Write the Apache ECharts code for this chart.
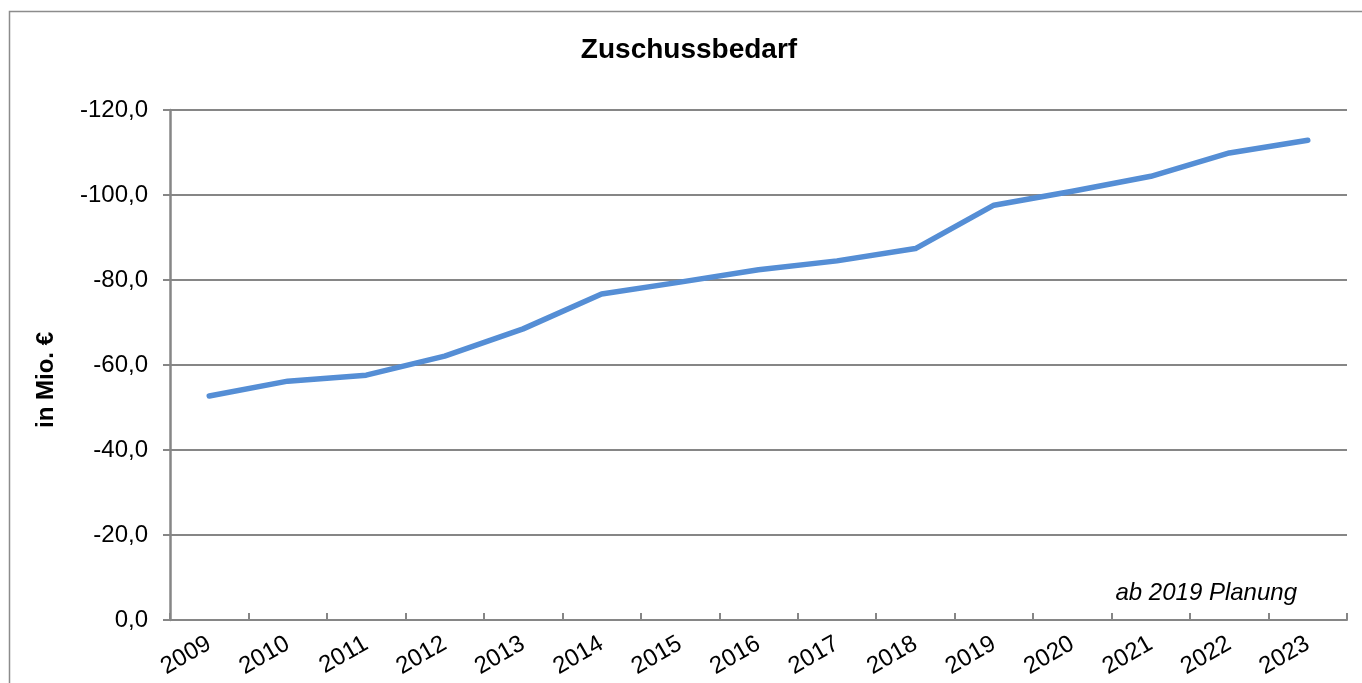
<!DOCTYPE html>
<html>
<head>
<meta charset="utf-8">
<script src="https://cdn.jsdelivr.net/npm/echarts@6/dist/echarts.min.js"></script>
<style>
html,body{margin:0;padding:0;background:#fff;}
#chart{width:1362px;height:683px;}
</style>
</head>
<body>
<div id="chart"></div>
<script>
const years = ['2009','2010','2011','2012','2013','2014','2015','2016','2017','2018','2019','2020','2021','2022','2023'];
const zuschussbedarf = [-52.7, -56.2, -57.6, -62.1, -68.5, -76.7, -79.5, -82.4, -84.5, -87.4, -97.6, -100.9, -104.4, -109.9, -112.9];
const yTicks = [0, -20, -40, -60, -80, -100, -120];
const titleText = 'Zuschussbedarf';
const yAxisName = 'in Mio. €';
const noteText = 'ab 2019 Planung';

const FONT = '"Liberation Sans", Arial, sans-serif';
const GRAY = '#868686';

const chart = echarts.init(document.getElementById('chart'), null, {renderer: 'canvas'});
chart.setOption({
  animation: false,
  backgroundColor: '#fff',
  title: {
    text: titleText,
    left: 684,
    top: 31,
    textAlign: 'center',
    textStyle: {fontFamily: FONT, fontSize: 28, fontWeight: 'bold', color: '#000'}
  },
  grid: {left: 170, right: 15, top: 110, bottom: 63, containLabel: false},
  xAxis: {
    type: 'category',
    data: years,
    boundaryGap: true,
    axisLine: {show: true, lineStyle: {color: GRAY, width: 2}},
    axisTick: {show: true, inside: true, length: 7, lineStyle: {color: GRAY, width: 2}},
    axisLabel: {rotate: 30, margin: 22, fontFamily: FONT, fontSize: 24, color: '#000', interval: 0},
    splitLine: {show: false}
  },
  yAxis: {
    type: 'value',
    inverse: true,
    min: -120,
    max: 0,
    interval: 20,
    name: yAxisName,
    nameLocation: 'middle',
    nameRotate: 90,
    nameGap: 112,
    nameTextStyle: {fontFamily: FONT, fontSize: 24, fontWeight: 'bold', color: '#000', padding: [0, 30, 0, 0]},
    axisLine: {show: true, lineStyle: {color: GRAY, width: 2.5}},
    axisTick: {show: true, inside: false, length: 7, lineStyle: {color: GRAY, width: 2}},
    axisLabel: {
      margin: 22,
      fontFamily: FONT, fontSize: 24, color: '#000',
      formatter: function (v) {
        if (yTicks.indexOf(v) < 0) return '';
        return (v === 0 ? 0 : v).toFixed(1).replace('.', ',');
      }
    },
    splitLine: {show: true, lineStyle: {color: GRAY, width: 2}}
  },
  series: [{
    type: 'line',
    data: zuschussbedarf,
    showSymbol: false,
    symbol: 'none',
    lineStyle: {color: '#558ED5', width: 5.5, cap: 'round', join: 'round'},
    itemStyle: {color: '#558ED5'}
  }],
  graphic: [
    {
      type: 'rect',
      shape: {x: 9.5, y: 11.5, width: 1400, height: 700},
      style: {fill: 'none', stroke: '#8c8c8c', lineWidth: 1.5},
      silent: true
    },
    {
      type: 'text',
      style: {
        text: noteText,
        x: 1297, y: 593,
        align: 'right', verticalAlign: 'middle',
        font: 'italic 24px "Liberation Sans", Arial, sans-serif',
        fill: '#000'
      },
      silent: true
    }
  ]
});
</script>
</body>
</html>
